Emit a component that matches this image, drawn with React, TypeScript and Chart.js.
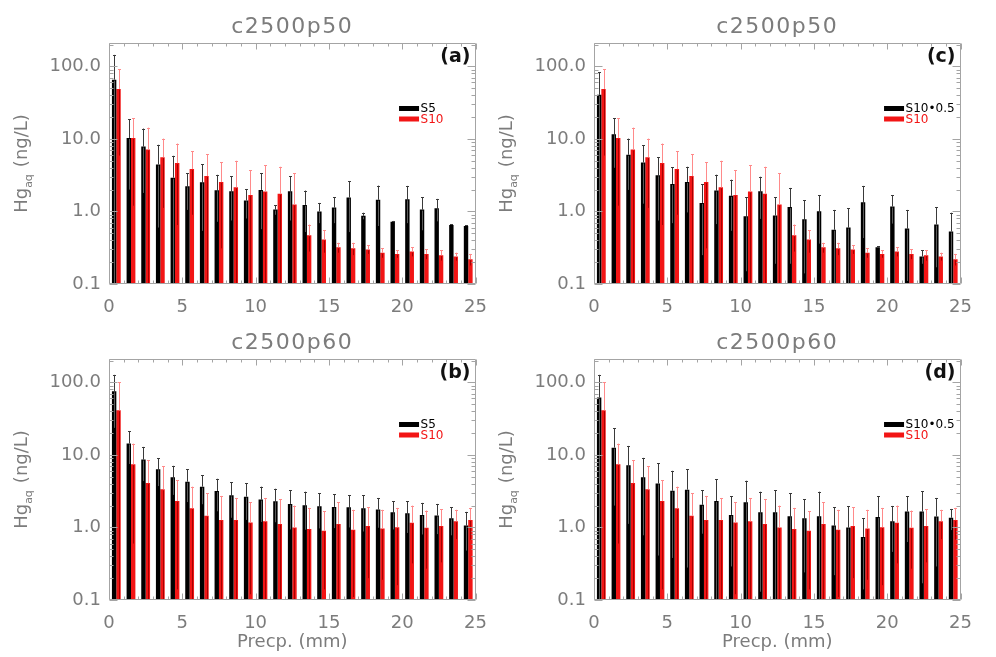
import React, { useEffect, useRef } from "react";
import { Chart, registerables } from "chart.js";

Chart.register(...registerables);

// Precipitation bins (mm)
const BINS = ["0", "1", "2", "3", "4", "5", "6", "7", "8", "9", "10", "11", "12", "13", "14", "15", "16", "17", "18", "19", "20", "21", "22", "23", "24"];
const X_TICKS = [0, 5, 10, 15, 20, 25];
const Y_TICKS = [0.1, 1, 10, 100];

// c2500p50
const S5_P50 = [65.6, 10.3, 7.85, 4.45, 2.92, 2.22, 2.52, 1.96, 1.9, 1.42, 1.98, 1.06, 1.9, 1.23, 1.0, 1.13, 1.56, 0.87, 1.45, 0.72, 1.47, 1.06, 1.11, 0.65, 0.63];
const S5_P50_UP = [144, 18.6, 13.9, 8.3, 5.85, 3.39, 4.5, 3.2, 3.05, 2.04, 3.39, 1.22, 3.05, 1.94, 1.31, 1.57, 2.6, 0.96, 2.27, 0.74, 2.25, 1.57, 1.49, 0.67, 0.65];
const S10_P50 = [48.9, 10.3, 7.14, 5.61, 4.64, 3.84, 3.08, 2.55, 2.15, 1.69, 1.88, 1.75, 1.25, 0.47, 0.41, 0.32, 0.31, 0.3, 0.27, 0.26, 0.28, 0.26, 0.25, 0.24, 0.22];
const S10_P50_UP = [91.9, 19.4, 14.3, 10.1, 8.63, 6.78, 6.1, 4.79, 5.0, 3.72, 4.36, 4.13, 3.35, 0.66, 0.55, 0.37, 0.37, 0.34, 0.31, 0.29, 0.32, 0.3, 0.29, 0.27, 0.26];
const S10H_P50 = [40.5, 11.6, 6.04, 4.74, 3.15, 2.39, 2.55, 1.31, 1.94, 1.64, 0.86, 1.9, 0.88, 1.15, 0.78, 1.01, 0.56, 0.6, 1.34, 0.32, 1.17, 0.58, 0.24, 0.66, 0.53];
const S10H_P50_UP = [82.7, 19.2, 10.1, 8.2, 5.55, 4.09, 4.13, 2.37, 3.21, 2.74, 1.57, 3.01, 1.57, 2.11, 1.42, 1.66, 1.05, 1.11, 2.25, 0.33, 1.66, 1.05, 0.29, 1.15, 0.96];

// c2500p60
const S5_P60 = [75.3, 14.4, 8.63, 6.36, 4.94, 4.27, 3.65, 3.18, 2.77, 2.66, 2.42, 2.3, 2.11, 2.02, 1.96, 1.92, 1.9, 1.84, 1.77, 1.62, 1.57, 1.49, 1.46, 1.34, 1.06];
const S5_P60_UP = [127, 21.3, 12.9, 9.0, 7.07, 6.3, 5.21, 4.69, 4.18, 4.05, 3.65, 3.42, 3.28, 3.11, 2.95, 2.86, 2.8, 2.8, 2.55, 2.3, 2.3, 2.18, 2.11, 1.9, 1.64];
const S10_P60 = [41.3, 7.45, 4.09, 3.35, 2.32, 1.84, 1.45, 1.27, 1.27, 1.17, 1.22, 1.12, 1.0, 0.95, 0.9, 1.12, 0.93, 1.05, 0.97, 1.01, 1.16, 0.99, 1.05, 1.22, 1.27];
const S10_P60_UP = [100, 14.3, 8.45, 7.0, 4.5, 3.65, 2.98, 2.72, 2.55, 2.22, 2.55, 2.47, 2.0, 1.86, 1.66, 2.22, 1.75, 1.9, 1.75, 1.86, 2.0, 1.71, 1.77, 1.75, 1.86];
const S10H_P60 = [61.7, 12.6, 7.21, 4.94, 4.05, 3.21, 3.32, 2.05, 2.32, 1.49, 2.22, 1.62, 1.62, 1.43, 1.34, 1.43, 1.06, 1.0, 0.74, 1.39, 1.22, 1.66, 1.66, 1.42, 1.36];
const S10H_P60_UP = [127, 23.2, 13.3, 9.1, 7.69, 6.04, 6.36, 3.28, 4.64, 2.69, 4.41, 3.11, 3.28, 2.95, 2.44, 3.11, 1.9, 1.96, 1.34, 2.69, 1.98, 2.69, 3.15, 2.55, 1.8];

const FONT = "DejaVu Sans";
const TEXT = "#7c7c7c";
const AXIS = "#a4a4a4";
const BLACK = "#000000";
const RED = "#f21515";

type PanelCfg = {
  left: number;
  top: number;
  h: number;
  title: string;
  tag: string;
  names: string[];
  black: number[];
  blackUp: number[];
  red: number[];
  redUp: number[];
  xTitle: boolean;
};

const PANELS: PanelCfg[] = [
  { left: 0, top: 0, h: 318, title: "c2500p50", tag: "(a)", names: ["S5", "S10"], black: S5_P50, blackUp: S5_P50_UP, red: S10_P50, redUp: S10_P50_UP, xTitle: false },
  { left: 485, top: 0, h: 318, title: "c2500p50", tag: "(c)", names: ["S10•0.5", "S10"], black: S10H_P50, blackUp: S10H_P50_UP, red: S10_P50, redUp: S10_P50_UP, xTitle: false },
  { left: 0, top: 316, h: 341, title: "c2500p60", tag: "(b)", names: ["S5", "S10"], black: S5_P60, blackUp: S5_P60_UP, red: S10_P60, redUp: S10_P60_UP, xTitle: true },
  { left: 485, top: 316, h: 341, title: "c2500p60", tag: "(d)", names: ["S10•0.5", "S10"], black: S10H_P60, blackUp: S10H_P60_UP, red: S10_P60, redUp: S10_P60_UP, xTitle: true },
];

const Y_MIN = 0.1;
const Y_MAX = 210;

function makePlugin(cfg: PanelCfg) {
  return {
    id: "decor",
    afterDatasetsDraw(chart: any) {
      const ctx = chart.ctx;
      const ys = chart.scales.y;
      const sets = [
        { di: 0, vals: cfg.black, ups: cfg.blackUp, up: "#3a3a3a", low: "#5a5a5a" },
        { di: 1, vals: cfg.red, ups: cfg.redUp, up: "#ff8a8a", low: "#a80000" },
      ];
      ctx.save();
      ctx.lineWidth = 1;
      for (const s of sets) {
        const meta = chart.getDatasetMeta(s.di);
        meta.data.forEach((bar: any, i: number) => {
          const v = s.vals[i];
          const u = s.ups[i];
          const x = Math.round(bar.x) + 0.5;
          const yv = ys.getPixelForValue(v);
          const yu = ys.getPixelForValue(u);
          const lo = Math.max(2 * v - u, Y_MIN);
          const yl = ys.getPixelForValue(lo);
          ctx.strokeStyle = s.up;
          ctx.beginPath();
          ctx.moveTo(x, yv);
          ctx.lineTo(x, yu);
          ctx.moveTo(x - 1.5, Math.round(yu) + 0.5);
          ctx.lineTo(x + 1.5, Math.round(yu) + 0.5);
          ctx.stroke();
          ctx.strokeStyle = s.low;
          ctx.beginPath();
          ctx.moveTo(x, yv + 1);
          ctx.lineTo(x, yl);
          ctx.stroke();
        });
      }
      ctx.restore();
    },
    afterDraw(chart: any) {
      const ctx = chart.ctx;
      const a = chart.chartArea;
      const xs = chart.scales.xv;
      const ys = chart.scales.y;
      const L = Math.round(a.left) + 0.5;
      const R = Math.round(a.right) - 0.5;
      const T = Math.round(a.top) + 0.5;
      const B = Math.round(a.bottom) - 0.5;
      ctx.save();
      ctx.strokeStyle = AXIS;
      ctx.lineWidth = 1;
      ctx.beginPath();
      ctx.rect(L, T, R - L, B - T);
      // x ticks (top and bottom, inward)
      for (let v = 0; v <= 25; v++) {
        const px = Math.round(xs.getPixelForValue(v)) + 0.5;
        const len = v % 5 === 0 ? 6 : 3;
        ctx.moveTo(px, B);
        ctx.lineTo(px, B - len);
        ctx.moveTo(px, T);
        ctx.lineTo(px, T + len);
      }
      // y ticks (log, left and right, inward)
      for (let d = -1; d <= 2; d++) {
        for (let m = 1; m <= 9; m++) {
          const val = m * Math.pow(10, d);
          if (val < Y_MIN - 1e-9 || val > Y_MAX) continue;
          const py = Math.round(ys.getPixelForValue(val)) + 0.5;
          const len = m === 1 ? 8 : 4;
          ctx.moveTo(L, py);
          ctx.lineTo(L + len, py);
          ctx.moveTo(R, py);
          ctx.lineTo(R - len, py);
        }
      }
      ctx.stroke();

      const cx = (a.left + a.right) / 2;
      // title
      ctx.fillStyle = TEXT;
      ctx.font = `22px "${FONT}"`;
      ctx.textAlign = "center";
      ctx.textBaseline = "alphabetic";
      (ctx as any).letterSpacing = "1.5px";
      ctx.fillText(cfg.title, cx, a.top - 10.5);
      (ctx as any).letterSpacing = "0px";

      // panel tag
      ctx.fillStyle = "#111";
      ctx.font = `bold 19px "${FONT}"`;
      ctx.textAlign = "right";
      ctx.fillText(cfg.tag, a.right - 5, a.top + 19);

      // legend
      const lx = a.right - 76.5;
      const rows = [
        { name: cfg.names[0], color: BLACK, y: a.top + 65.5 },
        { name: cfg.names[1], color: RED, y: a.top + 76 },
      ];
      ctx.font = `12px "${FONT}"`;
      ctx.textAlign = "left";
      ctx.textBaseline = "middle";
      for (const r of rows) {
        ctx.fillStyle = r.color;
        ctx.fillRect(lx, r.y - 2.5, 20, 5);
        ctx.fillText(r.name, lx + 21.5, r.y + 0.5);
      }

      // y axis title with subscript
      ctx.save();
      ctx.translate(27, (a.top + a.bottom) / 2);
      ctx.rotate(-Math.PI / 2);
      ctx.fillStyle = TEXT;
      ctx.textBaseline = "alphabetic";
      ctx.textAlign = "left";
      const big = `18px "${FONT}"`;
      const small = `11px "${FONT}"`;
      ctx.font = big;
      const w1 = ctx.measureText("Hg").width;
      const w3 = ctx.measureText("(ng/L)").width;
      const gap = 7;
      ctx.font = small;
      const w2 = ctx.measureText("aq").width;
      let sx = -(w1 + w2 + gap + w3) / 2;
      ctx.font = big;
      ctx.fillText("Hg", sx, 0);
      sx += w1;
      ctx.font = small;
      ctx.fillText("aq", sx, 5);
      sx += w2 + gap;
      ctx.font = big;
      ctx.fillText("(ng/L)", sx, 0);
      ctx.restore();

      if (cfg.xTitle) {
        ctx.fillStyle = TEXT;
        ctx.font = `18px "${FONT}"`;
        ctx.textAlign = "center";
        ctx.textBaseline = "alphabetic";
        ctx.fillText("Precp. (mm)", cx, a.bottom + 47);
      }
      ctx.restore();
    },
  };
}

function Panel({ cfg }: { cfg: PanelCfg }) {
  const ref = useRef<HTMLCanvasElement>(null);
  useEffect(() => {
    if (!ref.current) return;
    const chart = new Chart(ref.current, {
      type: "bar",
      data: {
        labels: BINS,
        datasets: [
          { label: cfg.names[0], data: cfg.black, backgroundColor: BLACK, borderWidth: 0, categoryPercentage: 0.6, barPercentage: 1.0 },
          { label: cfg.names[1], data: cfg.red, backgroundColor: RED, borderWidth: 0, categoryPercentage: 0.6, barPercentage: 1.0 },
        ],
      },
      options: {
        responsive: false,
        animation: false,
        devicePixelRatio: 1,
        layout: { padding: { left: 0, right: 2, top: 43, bottom: 0 } },
        plugins: { legend: { display: false }, tooltip: { enabled: false }, title: { display: false } },
        scales: {
          x: { type: "category", display: false, offset: true, grid: { display: false } },
          xv: {
            type: "linear",
            position: "bottom",
            offset: false,
            min: 0,
            max: 25,
            afterBuildTicks: (s: any) => {
              s.ticks = X_TICKS.map((v) => ({ value: v }));
            },
            ticks: { font: { family: FONT, size: 18 }, color: TEXT, padding: 13, maxRotation: 0, autoSkip: false },
            grid: { display: false, drawTicks: false, offset: false },
            border: { display: false },
            afterFit: (s: any) => {
              s.height = cfg.h - 284;
            },
          },
          y: {
            type: "logarithmic",
            min: Y_MIN,
            max: Y_MAX,
            afterBuildTicks: (s: any) => {
              s.ticks = Y_TICKS.map((v) => ({ value: v }));
            },
            ticks: {
              font: { family: FONT, size: 18 },
              color: TEXT,
              padding: 8,
              autoSkip: false,
              callback: (v: any) => Number(v).toFixed(1),
            },
            grid: { display: false, drawTicks: false },
            border: { display: false },
            afterFit: (s: any) => {
              s.width = 109;
            },
          },
        },
      } as any,
      plugins: [makePlugin(cfg)],
    });
    return () => chart.destroy();
  }, []);
  return (
    <div style={{ position: "absolute", left: cfg.left, top: cfg.top, width: 500, height: cfg.h }}>
      <canvas ref={ref} width={500} height={cfg.h} style={{ display: "block" }} />
    </div>
  );
}

export default function App() {
  return (
    <div style={{ position: "absolute", left: 0, top: 0, width: 996, height: 657, background: "#fff", overflow: "hidden" }}>
      {PANELS.map((p) => (
        <Panel key={p.tag} cfg={p} />
      ))}
    </div>
  );
}
